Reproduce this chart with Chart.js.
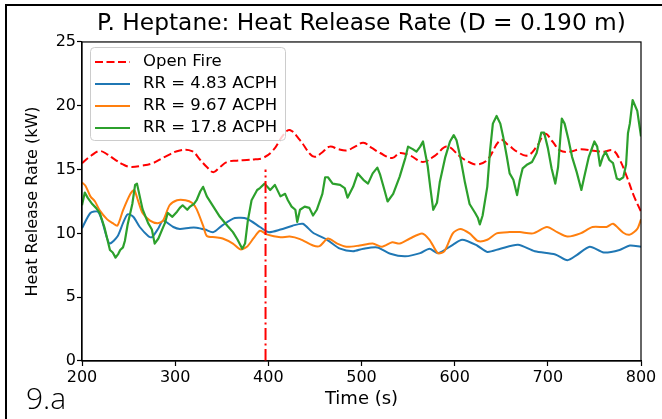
<!DOCTYPE html>
<html>
<head>
<meta charset="utf-8">
<script src="https://cdn.jsdelivr.net/npm/chart.js@4.4.0/dist/chart.umd.min.js"></script>
<style>
  html, body { margin: 0; padding: 0; background: #fff; }
  #wrap { position: relative; width: 662px; height: 419px; }
  canvas { display: block; }
</style>
</head>
<body>
<div id="wrap"><canvas id="c" width="662" height="419"></canvas></div>
<script>
// ---- Text ----
const chartTitle = 'P. Heptane: Heat Release Rate (D = 0.190 m)';
const xAxisLabel = 'Time (s)';
const yAxisLabel = 'Heat Release Rate (kW)';
const panelTag = '9.a';
const seriesLabels = ['Open Fire', 'RR = 4.83 ACPH', 'RR = 9.67 ACPH', 'RR = 17.8 ACPH'];

// ---- Axis ticks ----
const xTicks = [200, 300, 400, 500, 600, 700, 800];
const yTicks = [0, 5, 10, 15, 20, 25];

// ---- Open fire (reference burn) ----
const openFireTime = [200,210,219,227,235,244,252,264,276,289,305,318,327,334,341,348,356,366,377,386,394,405,416,423,434,445,450,457,466,475,484,493,502,511,520,533,541,552,566,579,592,606,615,624,635,649,658,667,678,688,697,705,713,724,735,751,760,770,777,785,792,800];
const openFireHRR  = [15.5,16.1,16.45,16.2,15.8,15.4,15.2,15.3,15.5,16.0,16.5,16.45,15.75,15.2,14.8,15.2,15.6,15.7,15.75,15.8,15.9,16.5,17.7,18.1,17.3,16.2,16.0,16.3,16.8,16.6,16.5,16.8,17.1,16.7,16.3,15.9,16.3,16.1,15.6,16.1,16.8,16.0,15.6,15.4,15.75,17.3,16.9,16.4,16.1,16.8,17.8,17.2,16.5,16.4,16.6,16.45,16.4,16.5,15.8,14.4,13.0,11.7];

// ---- RR = 4.83 ACPH ----
const rr483Time = [200,209,217,221,227,230,238,244,249,255,262,271,275,282,287,298,305,316,323,332,341,351,364,377,391,400,413,426,437,448,463,477,491,502,517,531,547,563,573,582,598,608,624,635,649,668,686,708,721,731,745,760,777,788,800];
const rr483HRR  = [10.4,11.6,11.7,11.1,9.6,9.2,9.75,10.8,11.5,11.3,10.5,9.8,9.7,10.4,11.0,10.5,10.35,10.45,10.45,10.3,10.1,10.65,11.2,11.15,10.5,10.1,10.3,10.6,10.75,10.05,9.5,8.8,8.6,8.8,8.9,8.4,8.2,8.45,8.8,8.45,9.1,9.5,9.05,8.55,8.8,9.1,8.6,8.35,7.9,8.3,8.95,8.5,8.7,9.05,8.95];

// ---- RR = 9.67 ACPH ----
const rr967Time = [200,204,209,214,219,227,233,238,244,252,256,260,265,273,281,287,294,302,311,318,323,330,334,343,351,362,370,377,384,391,399,413,423,434,448,455,464,474,484,498,512,522,533,541,552,565,573,582,589,598,606,616,625,635,645,659,670,684,699,710,721,735,748,763,770,781,788,796,800];
const rr967HRR  = [14.0,13.7,12.9,12.5,11.8,11.1,10.8,10.6,11.8,13.1,13.4,12.6,11.6,11.0,10.8,11.0,12.2,12.6,12.6,12.4,11.9,10.6,9.8,9.7,9.6,9.2,8.75,8.95,9.6,10.2,9.9,9.7,9.75,9.55,9.05,9.0,9.6,9.2,8.95,9.05,9.2,8.95,9.3,9.2,9.6,10.0,9.5,8.45,8.6,10.0,10.35,10.0,9.4,9.5,10.0,10.1,10.1,10.0,10.5,10.1,9.75,10.0,10.5,10.5,10.75,10.05,9.9,10.35,11.1];

// ---- RR = 17.8 ACPH ----
const rr178Time = [200,203,206,211,215,219,224,227,230,233,236,239,241,244,246,249,254,257,259,262,265,271,275,278,282,286,289,292,297,302,305,308,313,316,320,323,327,330,334,341,348,356,362,367,372,375,378,382,388,391,396,402,407,413,418,421,425,429,431,434,439,444,448,452,458,461,464,469,477,482,485,491,496,502,507,512,517,520,525,528,534,541,547,550,555,559,563,566,571,574,577,581,584,590,595,599,602,606,611,616,622,625,627,630,635,638,641,645,649,652,656,659,663,667,670,673,678,683,688,693,696,700,704,708,711,715,718,722,726,731,736,739,744,750,753,756,759,762,766,770,774,777,781,784,786,788,791,796,800];
const rr178HRR  = [12.2,13.2,12.8,12.3,12.0,11.6,10.5,9.6,8.7,8.5,8.1,8.4,8.7,8.9,9.4,10.7,12.3,13.8,13.9,12.9,11.9,10.8,10.3,9.2,9.6,10.3,10.8,11.6,11.3,11.7,12.0,12.2,11.85,12.1,12.3,12.6,13.3,13.65,12.9,12.1,11.3,10.6,10.1,9.5,8.8,9.2,11.0,12.6,13.4,13.55,13.9,13.4,13.8,12.9,13.1,12.6,12.1,11.85,10.9,11.85,12.1,12.0,11.4,11.85,13.1,14.4,14.4,13.9,13.8,13.55,12.8,13.65,14.7,14.2,13.9,14.7,15.15,14.6,13.3,12.5,13.1,14.45,15.9,16.8,16.6,16.4,16.8,17.2,15.3,13.5,11.85,12.4,14.0,16.0,17.2,17.7,17.3,16.0,14.0,12.3,11.6,11.2,10.7,11.4,13.65,16.5,18.6,19.2,18.6,17.6,16.0,14.7,14.2,13.0,14.2,15.1,15.4,15.6,16.3,17.9,17.9,16.7,15.1,13.9,15.2,19.0,18.6,17.4,16.0,14.8,13.4,14.4,16.0,17.2,16.8,15.3,16.0,16.4,15.75,15.5,14.3,14.2,14.4,15.4,17.85,18.6,20.45,19.6,17.6];

// ---- Vertical marker ----
const markerTime = [397, 397];
const markerHRR  = [0, 15];

const toPoints = (xs, ys) => xs.map((x, i) => ({ x, y: ys[i] }));

const FONT = '"DejaVu Sans", "Liberation Sans", sans-serif';

// Axes box, legend, outer border and panel tag
const decorations = {
  id: 'decorations',
  afterDatasetsDraw(chart) {
    const { ctx, chartArea: a } = chart;
    ctx.save();
    ctx.strokeStyle = '#000';
    ctx.lineWidth = 1.2;
    ctx.strokeRect(a.left, a.top, a.right - a.left, a.bottom - a.top);

    // legend
    const bx = 90.5, by = 47.5, bw = 195, bh = 93;
    ctx.beginPath();
    ctx.roundRect(bx, by, bw, bh, 4);
    ctx.fillStyle = 'rgba(255,255,255,0.8)';
    ctx.fill();
    ctx.strokeStyle = '#cccccc';
    ctx.lineWidth = 1;
    ctx.stroke();
    ctx.font = '16.5px ' + FONT;
    ctx.textBaseline = 'middle';
    ctx.textAlign = 'left';
    chart.data.datasets.slice(0, 4).forEach((ds, i) => {
      const y = 62 + i * 22;
      ctx.beginPath();
      ctx.setLineDash(ds.borderDash || []);
      ctx.strokeStyle = ds.borderColor;
      ctx.lineWidth = ds.borderWidth;
      ctx.moveTo(95, y);
      ctx.lineTo(130, y);
      ctx.stroke();
      ctx.setLineDash([]);
      ctx.fillStyle = '#000';
      ctx.fillText(ds.label, 143, y);
    });
    ctx.restore();
  },
  afterDraw(chart) {
    const { ctx } = chart;
    ctx.save();
    ctx.fillStyle = '#000';
    ctx.fillRect(5, 4, 657, 2);
    ctx.fillRect(5, 4, 2, 415);
    ctx.font = '300 30px "Open Sans", sans-serif';
    ctx.textBaseline = 'alphabetic';
    ctx.textAlign = 'left';
    ctx.fillText(panelTag, 26, 409);
    ctx.restore();
  }
};

new Chart(document.getElementById('c'), {
  type: 'line',
  data: {
    datasets: [
      { label: seriesLabels[0], data: toPoints(openFireTime, openFireHRR), borderColor: '#ff0000', borderWidth: 2, borderDash: [8, 3.5], tension: 0.4, order: 5 },
      { label: seriesLabels[1], data: toPoints(rr483Time, rr483HRR), borderColor: '#1f77b4', borderWidth: 2, tension: 0.25, order: 4 },
      { label: seriesLabels[2], data: toPoints(rr967Time, rr967HRR), borderColor: '#ff7f0e', borderWidth: 2, tension: 0.25, order: 3 },
      { label: seriesLabels[3], data: toPoints(rr178Time, rr178HRR), borderColor: '#2ca02c', borderWidth: 2.2, tension: 0, order: 2 },
      { label: 'marker', data: toPoints(markerTime, markerHRR), borderColor: '#ff0000', borderWidth: 2, borderDash: [12, 3.5, 2, 3.5], order: 1 }
    ]
  },
  options: {
    responsive: false,
    animation: false,
    devicePixelRatio: 1,
    layout: { padding: { left: 0, right: 21, top: 0, bottom: 0 } },
    elements: { point: { radius: 0 }, line: { borderCapStyle: 'butt', borderJoinStyle: 'round' } },
    plugins: {
      legend: { display: false },
      tooltip: { enabled: false },
      title: {
        display: true, text: chartTitle, color: '#000', fullSize: false,
        font: { family: FONT, size: 23.3, weight: 'normal' },
        padding: { top: 9.5, bottom: 4.5 }
      }
    },
    scales: {
      x: {
        type: 'linear',
        min: xTicks[0], max: xTicks[xTicks.length - 1],
        afterBuildTicks: s => { s.ticks = xTicks.map(v => ({ value: v })); },
        afterFit: s => { s.height = 58; },
        ticks: { color: '#000', padding: 2, maxRotation: 0, font: { family: FONT, size: 16 } },
        grid: { drawOnChartArea: false, drawTicks: true, tickLength: 5, tickColor: '#000', tickWidth: 1.2 },
        border: { display: true, color: '#000', width: 1.2 },
        title: { display: true, text: xAxisLabel, color: '#000', font: { family: FONT, size: 18 }, padding: { top: 0, bottom: 9 } }
      },
      y: {
        type: 'linear',
        min: yTicks[0], max: yTicks[yTicks.length - 1],
        afterBuildTicks: s => { s.ticks = yTicks.map(v => ({ value: v })); },
        afterFit: s => { s.width = 82; },
        ticks: { color: '#000', padding: 1, font: { family: FONT, size: 16 } },
        grid: { drawOnChartArea: false, drawTicks: true, tickLength: 5, tickColor: '#000', tickWidth: 1.2 },
        border: { display: true, color: '#000', width: 1.2 },
        title: { display: true, text: yAxisLabel, color: '#000', font: { family: FONT, size: 16 }, padding: { top: 23, bottom: 0 } }
      }
    }
  },
  plugins: [decorations]
});
</script>
</body>
</html>
